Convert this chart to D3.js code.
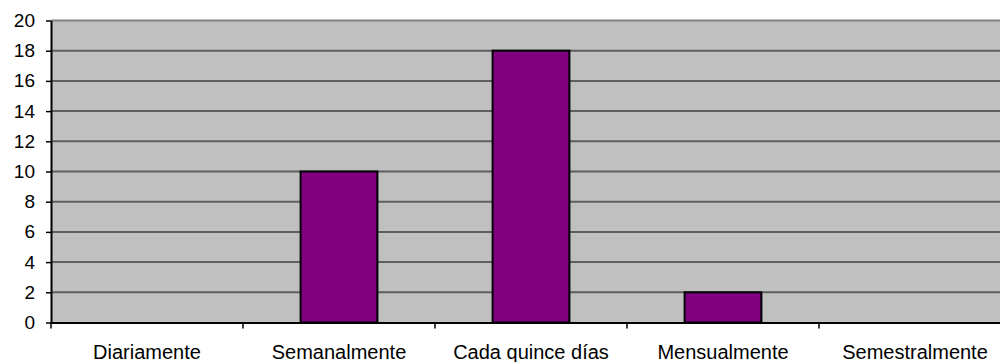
<!DOCTYPE html>
<html>
<head>
<meta charset="utf-8">
<script src="https://cdn.jsdelivr.net/npm/d3@7"></script>
<style>
  html, body { margin: 0; padding: 0; background: #fff; overflow: hidden; }
  svg { display: block; font-family: "Liberation Sans", Arial, sans-serif; }
</style>
</head>
<body>
<svg id="chart" width="1000" height="362"></svg>
<script>
// Frequency categories and respondent counts
const categories = ["Diariamente", "Semanalmente", "Cada quince días", "Mensualmente", "Semestralmente"];
const counts = [0, 10, 18, 2, 0];
const yTicks = [0, 2, 4, 6, 8, 10, 12, 14, 16, 18, 20];

const svg = d3.select("#chart");
const plotLeft = 51, plotTop = 20.5, plotBottom = 322.5;
const bandW = 192;
const plotRight = plotLeft + bandW * categories.length;

const x = d3.scaleBand().domain(categories).range([plotLeft, plotRight]).paddingInner(0).paddingOuter(0);
const y = d3.scaleLinear().domain([0, 20]).range([plotBottom, plotTop]);

// Plot area background
svg.append("rect")
  .attr("x", plotLeft).attr("y", plotTop)
  .attr("width", plotRight - plotLeft).attr("height", plotBottom - plotTop)
  .attr("fill", "#c0c0c0");

// Top border of the plot area
svg.append("line")
  .attr("x1", plotLeft).attr("x2", plotRight)
  .attr("y1", plotTop).attr("y2", plotTop)
  .attr("stroke", "#808080").attr("stroke-width", 2);

// Horizontal gridlines
svg.append("g")
  .selectAll("line")
  .data(yTicks.filter(d => d > 0 && d < 20))
  .join("line")
  .attr("x1", plotLeft).attr("x2", plotRight)
  .attr("y1", d => y(d)).attr("y2", d => y(d))
  .attr("stroke", "#5f5f5f").attr("stroke-width", 2);

// Bars
const bw = bandW * 0.4;
svg.append("g")
  .selectAll("rect")
  .data(categories.map((c, i) => ({ c, v: counts[i] })).filter(d => d.v > 0))
  .join("rect")
  .attr("x", d => x(d.c) + (bandW - bw) / 2)
  .attr("y", d => y(d.v))
  .attr("width", bw)
  .attr("height", d => y(0) - y(d.v))
  .attr("fill", "#800080")
  .attr("stroke", "#000")
  .attr("stroke-width", 2);

// Y axis
const yAxis = svg.append("g")
  .attr("transform", `translate(${plotLeft},0)`)
  .call(d3.axisLeft(y).tickValues(yTicks).tickSize(5).tickPadding(11).tickSizeOuter(0));
yAxis.attr("font-size", 19).attr("font-family", "'Liberation Sans', Arial, sans-serif");
yAxis.select(".domain").attr("stroke", "#000").attr("stroke-width", 2);
yAxis.selectAll(".tick line").attr("stroke", "#000").attr("stroke-width", 1.5);
yAxis.selectAll(".tick text").attr("fill", "#000");

// X axis
const xAxis = svg.append("g")
  .attr("transform", `translate(0,${plotBottom})`)
  .call(d3.axisBottom(x).tickSize(0).tickPadding(22).tickSizeOuter(0));
xAxis.attr("font-size", 20).attr("font-family", "'Liberation Sans', Arial, sans-serif");
xAxis.select(".domain").attr("stroke", "#000").attr("stroke-width", 2);
xAxis.selectAll(".tick text").attr("fill", "#000");

// Category boundary tick marks
svg.append("g")
  .selectAll("line")
  .data(categories)
  .join("line")
  .attr("x1", d => x(d)).attr("x2", d => x(d))
  .attr("y1", plotBottom).attr("y2", plotBottom + 6)
  .attr("stroke", "#000").attr("stroke-width", 1.5);
</script>
</body>
</html>
